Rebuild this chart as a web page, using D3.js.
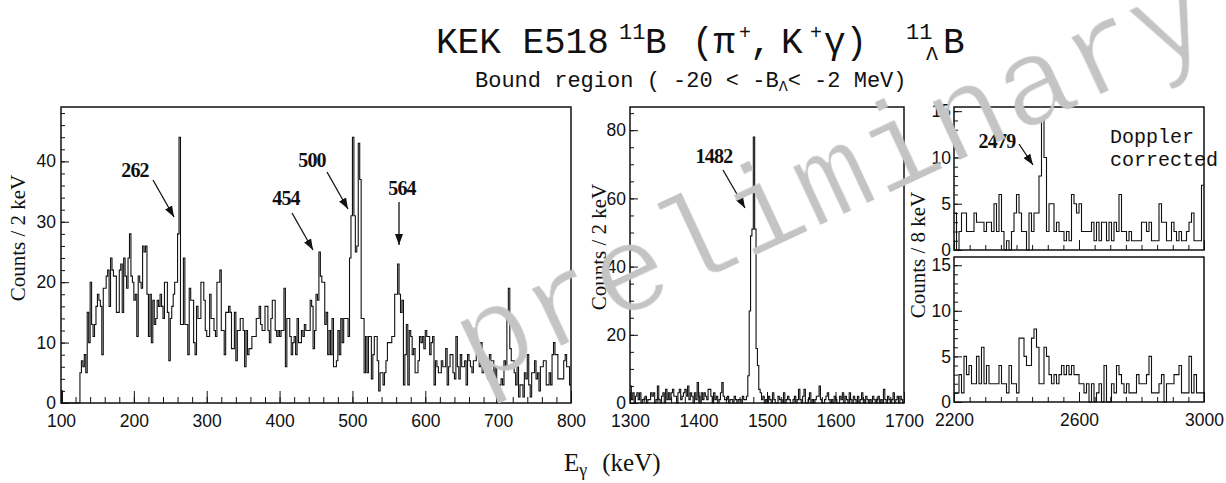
<!DOCTYPE html>
<html>
<head>
<meta charset="utf-8">
<script src="https://cdn.jsdelivr.net/npm/d3@7"></script>
<style>
  body { margin: 0; background: #fff; }
</style>
</head>
<body>
<svg id="chart" width="1226" height="483"></svg>
<script>
// ---- data: counts per bin ----
// low energy, 100-800 keV, 2 keV bins
const lowStart = 100, lowBin = 2;
const lowCounts = [
  2,0,0,0,0,0,0,0,0,0, 0,0,0,5,7,6,8,5,15,10,
  20,13,11,13,16,18,17,16,8,19, 19,21,22,16,24,22,21,21,15,15,
  22,23,15,24,21,19,24,28,21,20, 17,18,11,21,20,19,26,25,26,18,
  11,18,10,17,13,14,17,16,18,16, 14,20,20,15,7,14,16,18,20,20,
  28,44,13,13,24,13,13,8,19,17, 17,10,8,16,14,14,20,20,17,12,
  11,11,18,14,14,12,11,20,20,22, 12,12,8,15,15,16,15,9,9,15,
  7,12,12,14,14,12,6,12,8,9, 9,11,11,11,14,14,16,13,12,12,
  16,16,12,10,14,17,17,12,11,12,
  11,12,12,19,6,14,14,11, 8,10,11,8,14,10,10,12, 11,13,12,12,12,17,16,9,
  12,18,17,25,21,20,20,13, 15,8,12,8,14,6,6,7, 12,8,14,10,14,14,14,11,
  24,31,44,31,25,26,43,37, 14,14,5,11,5,11,11,4, 8,11,11,7,2,5,5,3,
  5,7,10,10,10,11,11,18, 18,23,18,15,17,3,8,13, 3,12,11,8,9,5,5,7,
  11,10,11,9,12,11,11,8, 10,11,3,7,6,5,5,7, 6,6,9,3,6,8,8,5,
  4,11,6,4,8,6,6,7, 3,8,7,6,5,7,7,8, 9,6,10,5,6,7,7,4,
  8,7,7,4,6,0,0,3, 4,3,7,6,14,19,9,7, 7,5,3,6,1,3,3,1,
  5,4,8,3,1,5,5,7, 4,5,2,6,6,7,7,3, 3,5,3,8,10,8,8,4,
  4,4,4,7,8,6,6,3
];
// 1300-1700 keV, 2 keV bins
const midStart = 1300, midBin = 2;
const midCounts = [
  5,1,3,0,2,3,1,3,0,1, 1,2,0,1,1,3,2,3,0,1, 5,1,0,2,3,0,4,1,3,1,
  3,4,2,2,0,3,4,1,2,3, 4,2,5,1,3,2,0,3,1,6, 2,0,3,1,3,2,1,4,4,2,
  0,3,1,2,0,1,3,6,2,1, 1,2,0,1,1,0,2,1,0,1, 1,0,2,1,1,2,8,27,49,51,
  78,51,16,11,4,3,1,2,0,1, 0,2,1,0,3,1,0,0,2,1, 1,0,3,0,1,2,1,0,0,1,
  2,0,1,4,1,0,2,4,0,0, 1,3,0,1,0,1,2,2,5,1, 0,0,1,2,3,1,0,1,0,2,
  1,0,0,2,1,3,0,2,1,0, 3,1,0,2,1,0,2,0,1,3, 1,0,2,1,0,1,0,2,1,0,
  1,2,0,1,0,4,1,0,2,1, 0,1,3,0,1,2,0,2,1,0
];
// 2200-3000 keV, 8 keV bins, Doppler corrected and not corrected
const highStart = 2200, highBin = 8;
const dopCounts = [
  4,0,2,4,4,2,2,2,4,3, 3,3,2,3,3,2,5,2,6,2, 0,1,0,2,4,6,4,2,2,0,
  4,2,4,4,8,14,10,2,5,5, 2,3,2,2,1,2,1,6,5,4, 5,2,2,2,2,3,1,3,1,3,
  3,1,3,1,3,2,6,2,2,1, 2,1,1,1,1,3,3,2,3,1, 1,1,5,3,3,1,1,3,2,1,
  2,1,1,2,3,4,1,1,1,7
];
const rawCounts = [
  1,1,3,1,5,3,4,2,2,5, 2,6,2,4,2,2,2,2,4,2, 2,1,4,2,2,1,7,7,5,4,
  4,7,8,6,2,2,6,5,3,2, 3,2,3,4,3,4,3,4,3,3, 2,2,1,2,0,2,0,1,2,0,
  4,0,0,2,1,4,3,2,1,2, 1,1,1,3,2,2,2,3,5,1, 1,1,2,3,0,2,2,2,3,3,
  4,1,1,1,5,1,3,1,1,1
];
// peak labels (keV)
const peaksLow = ["262", "454", "500", "564"];
const peaksMid = ["1482"];
const peaksHigh = ["2479"];

const sans = "'Liberation Sans', Arial, Helvetica, sans-serif";
const serif = "'Liberation Serif', 'Times New Roman', serif";
const mono = "'Liberation Mono', 'Courier New', monospace";

const svg = d3.select("#chart");
const defs = svg.append("defs");

defs.append("marker")
  .attr("id", "arrow")
  .attr("markerUnits", "userSpaceOnUse")
  .attr("markerWidth", 12).attr("markerHeight", 8)
  .attr("refX", 11).attr("refY", 4)
  .attr("orient", "auto")
  .append("path")
  .attr("d", "M0,0 L11,4 L0,8 Z")
  .attr("fill", "#111");

// thin the watermark glyphs a little, like a light Courier
defs.append("filter")
  .attr("id", "thin")
  .append("feMorphology")
  .attr("operator", "erode")
  .attr("radius", 1.2);

function drawPanel(p) {
  const x = d3.scaleLinear().domain(p.xdom).range([p.left, p.right]);
  const y = d3.scaleLinear().domain(p.ydom).range([p.bottom, p.top]);
  const g = svg.append("g");

  // histogram as a step line
  const pts = p.counts.map((c, i) => [p.start + i * p.bin, c]);
  pts.push([p.start + p.counts.length * p.bin, p.counts[p.counts.length - 1]]);
  const line = d3.line().x(d => x(d[0])).y(d => y(d[1])).curve(d3.curveStepAfter);
  g.append("path")
    .attr("d", line(pts))
    .attr("fill", "none")
    .attr("stroke", "#111")
    .attr("stroke-width", 1.1);

  // minor ticks
  g.append("g")
    .attr("transform", "translate(0," + p.bottom + ")")
    .call(d3.axisBottom(x).tickValues(p.xMinor).tickSize(-p.xt[1]).tickFormat(""))
    .call(a => a.select(".domain").remove());
  g.append("g")
    .attr("transform", "translate(" + p.left + ",0)")
    .call(d3.axisLeft(y).tickValues(p.yMinor).tickSize(-p.yt[1]).tickFormat(""))
    .call(a => a.select(".domain").remove());

  // major ticks + labels
  g.append("g")
    .attr("transform", "translate(0," + p.bottom + ")")
    .call(d3.axisBottom(x).tickValues(p.xMajor).tickSize(-p.xt[0]).tickPadding(12)
      .tickFormat(p.xLabels ? d3.format("d") : ""))
    .call(a => a.select(".domain").remove());
  g.append("g")
    .attr("transform", "translate(" + p.left + ",0)")
    .call(d3.axisLeft(y).tickValues(p.yMajor).tickSize(-p.yt[0]).tickPadding(p.ypad)
      .tickFormat(d3.format("d")))
    .call(a => a.select(".domain").remove());

  g.selectAll(".tick line").attr("stroke", "#111").attr("stroke-width", 1);
  g.selectAll(".tick text")
    .style("font-family", sans)
    .style("font-size", "17.5px")
    .attr("fill", "#111");

  // frame
  g.append("rect")
    .attr("x", p.left).attr("y", p.top)
    .attr("width", p.right - p.left).attr("height", p.bottom - p.top)
    .attr("fill", "none").attr("stroke", "#111").attr("stroke-width", 1.5);

  return { x, y };
}

const panelLow = drawPanel({
  left: 61, right: 571, top: 107, bottom: 403,
  xdom: [100, 800], ydom: [0, 49],
  start: lowStart, bin: lowBin, counts: lowCounts,
  xMajor: d3.range(100, 801, 100), xMinor: d3.range(100, 801, 20),
  yMajor: [0, 10, 20, 30, 40], yMinor: d3.range(0, 49, 2),
  xt: [12, 6], yt: [8, 4], ypad: 5, xLabels: true
});
const panelMid = drawPanel({
  left: 630, right: 904, top: 107, bottom: 403,
  xdom: [1300, 1700], ydom: [0, 86.8],
  start: midStart, bin: midBin, counts: midCounts,
  xMajor: d3.range(1300, 1701, 100), xMinor: d3.range(1300, 1701, 20),
  yMajor: [0, 20, 40, 60, 80], yMinor: d3.range(0, 86, 5),
  xt: [11, 6], yt: [8, 4], ypad: 4, xLabels: true
});
const panelDop = drawPanel({
  left: 954, right: 1204, top: 107, bottom: 250,
  xdom: [2200, 3000], ydom: [0, 15.45],
  start: highStart, bin: highBin, counts: dopCounts,
  xMajor: [2200, 2600, 3000], xMinor: d3.range(2200, 3001, 50),
  yMajor: [0, 5, 10, 15], yMinor: d3.range(0, 16, 1),
  xt: [10, 5], yt: [8, 4], ypad: 3, xLabels: false
});
const panelRaw = drawPanel({
  left: 954, right: 1204, top: 257, bottom: 402,
  xdom: [2200, 3000], ydom: [0, 15.9],
  start: highStart, bin: highBin, counts: rawCounts,
  xMajor: [2200, 2600, 3000], xMinor: d3.range(2200, 3001, 50),
  yMajor: [0, 5, 10, 15], yMinor: d3.range(0, 16, 1),
  xt: [10, 5], yt: [8, 4], ypad: 3, xLabels: true
});

// peak annotations: label + arrow
function annotate(label, tx, ty, x1, y1, x2, y2) {
  svg.append("text")
    .attr("x", tx).attr("y", ty)
    .attr("text-anchor", "middle")
    .style("font-family", serif)
    .style("font-weight", "bold")
    .style("font-size", "20px")
    .style("letter-spacing", "-0.8px")
    .attr("fill", "#111")
    .text(label);
  svg.append("line")
    .attr("x1", x1).attr("y1", y1).attr("x2", x2).attr("y2", y2)
    .attr("stroke", "#111").attr("stroke-width", 1.3)
    .attr("marker-end", "url(#arrow)");
}
annotate(peaksLow[0], 135, 177, 153, 180, 174, 217);
annotate(peaksLow[1], 286, 205, 292, 213, 313, 250);
annotate(peaksLow[2], 312, 167, 327, 172, 348, 209);
annotate(peaksLow[3], 402, 195, 399, 202, 399, 245);
annotate(peaksMid[0], 714, 163, 723, 170, 745, 208);
annotate(peaksHigh[0], 997, 148, 1019, 144, 1033, 165);

// axis titles
[[25, 238, "Counts / 2 keV"], [606, 247, "Counts / 2 keV"], [925, 255, "Counts / 8 keV"]]
  .forEach(([ax, ay, t]) => {
    svg.append("text")
      .attr("transform", "translate(" + ax + "," + ay + ") rotate(-90)")
      .attr("text-anchor", "middle")
      .style("font-family", serif)
      .style("font-size", "21px")
      .attr("fill", "#111")
      .text(t);
  });

const xTitle = svg.append("text")
  .attr("x", 564).attr("y", 471)
  .style("font-family", serif).style("font-size", "25px").attr("fill", "#111");
xTitle.append("tspan").text("E");
xTitle.append("tspan").style("font-size", "18px").attr("dy", 5).text("γ");
xTitle.append("tspan").attr("dy", -5).attr("dx", 15).text("(keV)");

// title and subtitle (Courier-like)
const titleParts = [
  ["KEK E518", 436, 53, 36], ["11", 619, 39, 22], ["B", 645, 53, 36],
  ["(π", 692, 53, 36], ["+", 739, 39, 20], [",", 750, 53, 36],
  ["K", 781, 53, 36], ["+", 810, 39, 20], ["γ)", 824, 53, 36],
  ["11", 906, 39, 22], ["Λ", 926, 60, 20], ["B", 943, 53, 36]
];
titleParts.forEach(([t, tx, ty, fs]) => {
  svg.append("text").attr("x", tx).attr("y", ty)
    .style("font-family", mono).style("font-size", fs + "px").attr("fill", "#111")
    .text(t);
});

const sub = svg.append("text").attr("x", 475).attr("y", 87)
  .style("font-family", mono).style("font-size", "22px").attr("fill", "#111");
sub.append("tspan").text("Bound region ( -20 < -B");
sub.append("tspan").style("font-size", "15px").attr("dy", 4).text("Λ");
sub.append("tspan").attr("dy", -4).text("< -2 MeV)");

[["Doppler", 1110, 143], ["corrected", 1110, 166]].forEach(([t, tx, ty]) => {
  svg.append("text").attr("x", tx).attr("y", ty)
    .style("font-family", mono).style("font-size", "20px").attr("fill", "#111")
    .text(t);
});

// watermark on top
svg.append("text")
  .attr("transform", "translate(477,386) rotate(-25)")
  .style("font-family", mono)
  .style("font-size", "124px")
  .attr("fill", "#c4c4c4")
  .attr("filter", "url(#thin)")
  .text("preliminary");
</script>
</body>
</html>
